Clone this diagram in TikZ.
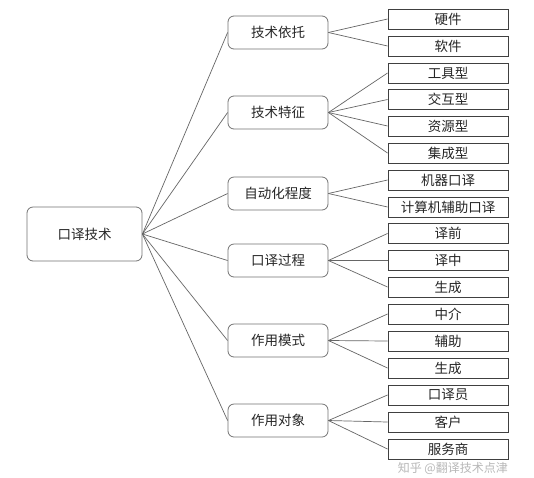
\documentclass[tikz,border=0pt]{standalone}
\usepackage{fontspec}
\setmainfont{Noto Sans CJK SC}
\begin{document}
\begin{tikzpicture}[x=1pt,y=-1pt,
  rootbox/.style={draw=black!55,line width=0.8pt,rounded corners=6pt,minimum width=115pt,minimum height=54pt,font=\fontsize{13.5}{14}\selectfont,text=black!85},
  midbox/.style={draw=black!55,line width=0.8pt,rounded corners=6pt,minimum width=100pt,minimum height=33pt,font=\fontsize{13.5}{14}\selectfont,text=black!85},
  leafbox/.style={draw=black!75,line width=1pt,minimum width=120pt,minimum height=20pt,inner sep=0pt,font=\fontsize{13.5}{14}\selectfont,text=black!85},
  link/.style={draw=black!60,line width=0.7pt}]
\useasboundingbox (0,0) rectangle (534,477);
\fill[white] (0,0) rectangle (534,477);
\node[rootbox] (root) at (84.5,234) {口译技术};
\node[midbox] (m1) at (278,32.5) {技术依托};
\node[midbox] (m2) at (278,112.5) {技术特征};
\node[midbox] (m3) at (278,193.5) {自动化程度};
\node[midbox] (m4) at (278,260.5) {口译过程};
\node[midbox] (m5) at (278,340.5) {作用模式};
\node[midbox] (m6) at (278,420.5) {作用对象};
\node[leafbox] (l1) at (448,19) {硬件};
\node[leafbox] (l2) at (448,46) {软件};
\node[leafbox] (l3) at (448,73) {工具型};
\node[leafbox] (l4) at (448,99.5) {交互型};
\node[leafbox] (l5) at (448,126) {资源型};
\node[leafbox] (l6) at (448,153) {集成型};
\node[leafbox] (l7) at (448,180) {机器口译};
\node[leafbox] (l8) at (448,207) {计算机辅助口译};
\node[leafbox] (l9) at (448,233.5) {译前};
\node[leafbox] (l10) at (448,260.5) {译中};
\node[leafbox] (l11) at (448,287) {生成};
\node[leafbox] (l12) at (448,314) {中介};
\node[leafbox] (l13) at (448,341) {辅助};
\node[leafbox] (l14) at (448,368) {生成};
\node[leafbox] (l15) at (448,395) {口译员};
\node[leafbox] (l16) at (448,422) {客户};
\node[leafbox] (l17) at (448,449) {服务商};
\foreach \m in {m1,m2,m3,m4,m5,m6} \draw[link] (root.east) -- (\m.west);
\foreach \m/\l in {m1/l1,m1/l2,m2/l3,m2/l4,m2/l5,m2/l6,m3/l7,m3/l8,m4/l9,m4/l10,m4/l11,m5/l12,m5/l13,m5/l14,m6/l15,m6/l16,m6/l17}
  \draw[link] (\m.east) -- (\l.west);
\node[anchor=east,text=black!35,opacity=0.8,font=\fontsize{12}{13}\selectfont,inner sep=0pt] (wm) at (508,468) {知乎 @翻译技术点津};
\end{tikzpicture}
\end{document}
